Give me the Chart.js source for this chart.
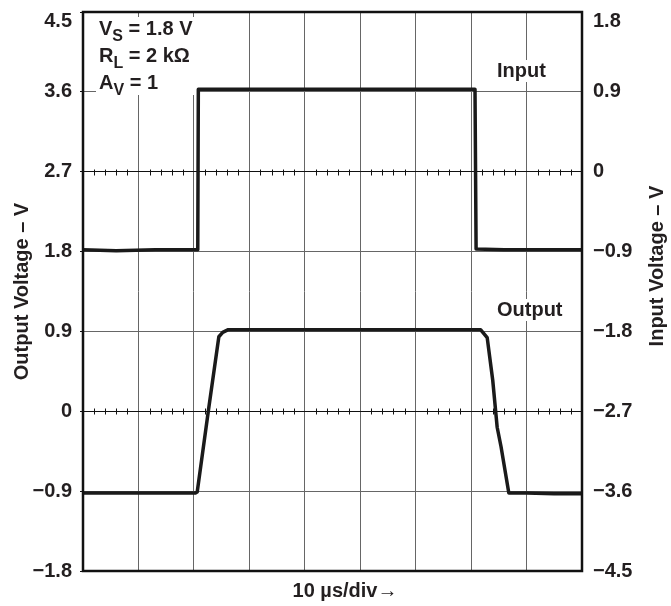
<!DOCTYPE html>
<html>
<head>
<meta charset="utf-8">
<script src="https://cdn.jsdelivr.net/npm/chart.js@4/dist/chart.umd.min.js"></script>
<style>
  html, body { margin: 0; padding: 0; background: #fff; }
</style>
</head>
<body>
<canvas id="scope" width="671" height="606"></canvas>
<script>
// divisions along the time axis (10 us/div)
const timeTicks = [0, 1, 2, 3, 4, 5, 6, 7, 8, 9];
const outputTicks = [-1.8, -0.9, 0, 0.9, 1.8, 2.7, 3.6, 4.5];
const inputTicks = [-4.5, -3.6, -2.7, -1.8, -0.9, 0, 0.9, 1.8];

// input trace (right axis, V)
const inputTime = [0, 0.6, 1.3, 2.07, 2.08, 3, 4, 5, 6, 7.07, 7.09, 7.6, 8.3, 9];
const inputVolts = [-0.88, -0.89, -0.88, -0.88, 0.93, 0.93, 0.93, 0.93, 0.93, 0.93, -0.87, -0.88, -0.88, -0.88];

// output trace (left axis, V)
const outputTime = [0, 1, 2.03, 2.06, 2.26, 2.45, 2.52, 2.62, 3.5, 5, 7.17, 7.29, 7.39, 7.47, 7.54, 7.68, 8, 8.5, 9];
const outputVolts = [-0.92, -0.92, -0.92, -0.91, 0, 0.84, 0.89, 0.92, 0.92, 0.92, 0.92, 0.83, 0.35, -0.18, -0.4, -0.92, -0.92, -0.93, -0.93];

const FONT = "'Liberation Sans', Arial, sans-serif";
const INK = "#231f20";

const fmtVolt = (v) => {
  if (Math.abs(v) < 1e-9) return "0";
  return (v < 0 ? "\u2212" : "") + Math.abs(v).toFixed(1);
};
// top label sits a bit lower than its grid line
const tickLabel = (v, i, ticks) => (i === ticks.length - 1 ? ["", fmtVolt(v)] : fmtVolt(v));

const isCenter = (v) => Math.abs(v - 2.7) < 1e-6 || Math.abs(v) < 1e-6;

// draws the subscripted text, returns end x
const drawSub = (ctx, x, y, main, sub, rest) => {
  ctx.font = "bold 20px " + FONT;
  ctx.fillText(main, x, y);
  x += ctx.measureText(main).width;
  ctx.font = "bold 16px " + FONT;
  ctx.fillText(sub, x, y + 6);
  x += ctx.measureText(sub).width;
  ctx.font = "bold 20px " + FONT;
  ctx.fillText(rest, x, y);
  return x + ctx.measureText(rest).width;
};

const scopeDecor = {
  id: "scopeDecor",
  beforeDatasetsDraw(chart) {
    const { ctx, chartArea, scales } = chart;
    const xs = scales.x;
    const ys = scales.y;
    ctx.save();
    // minor ticks on the two center lines
    ctx.strokeStyle = "#111";
    ctx.lineWidth = 1;
    [2.7, 0].forEach((lvl) => {
      const py = Math.round(ys.getPixelForValue(lvl)) + 0.5;
      for (let k = 1; k < 45; k++) {
        if (k % 5 === 0) continue;
        const px = Math.round(xs.getPixelForValue(k / 5)) + 0.5;
        ctx.beginPath();
        ctx.moveTo(px, py - 3);
        ctx.lineTo(px, py + 3);
        ctx.stroke();
      }
    });
    // white backing for the labels
    ctx.fillStyle = "#fff";
    ctx.fillRect(chartArea.left + 13, chartArea.top + 5, 102, 78);
    ctx.font = "bold 20px " + FONT;
    ctx.fillRect(496, 60, ctx.measureText("Input").width + 3, 22);
    ctx.fillRect(496, 299, ctx.measureText("Output").width + 3, 22);
    ctx.restore();
  },
  afterDatasetsDraw(chart) {
    const { ctx, chartArea } = chart;
    ctx.save();
    ctx.strokeStyle = "#111";
    ctx.lineWidth = 2.5;
    ctx.strokeRect(chartArea.left, chartArea.top, chartArea.right - chartArea.left, chartArea.bottom - chartArea.top);

    ctx.fillStyle = INK;
    ctx.textBaseline = "alphabetic";
    ctx.textAlign = "left";
    drawSub(ctx, 99, 35, "V", "S", " = 1.8 V");
    drawSub(ctx, 99, 62, "R", "L", " = 2 k\u03A9");
    drawSub(ctx, 99, 89, "A", "V", " = 1");

    ctx.font = "bold 20px " + FONT;
    ctx.fillText("Input", 497, 77);
    ctx.fillText("Output", 497, 316);

    ctx.textAlign = "center";
    ctx.textBaseline = "middle";
    ctx.fillText("10 \u00B5s/div\u2192", 345, 591);

    ctx.translate(657, 266);
    ctx.rotate(-Math.PI / 2);
    ctx.fillText("Input Voltage \u2013 V", 0, 0);
    ctx.restore();
  },
};

const fixSize = (prop, size) => (scale) => {
  scale[prop] = size;
  scale.paddingTop = 0;
  scale.paddingBottom = 0;
  scale.paddingLeft = 0;
  scale.paddingRight = 0;
};

const ctx = document.getElementById("scope").getContext("2d");

new Chart(ctx, {
  type: "line",
  data: {
    datasets: [
      {
        label: "Input",
        data: inputTime.map((t, i) => ({ x: t, y: inputVolts[i] })),
        yAxisID: "y2",
        borderColor: "#1a1a1a",
        borderWidth: 3.5,
      },
      {
        label: "Output",
        data: outputTime.map((t, i) => ({ x: t, y: outputVolts[i] })),
        yAxisID: "y",
        borderColor: "#1a1a1a",
        borderWidth: 3.5,
      },
    ],
  },
  options: {
    responsive: false,
    animation: false,
    layout: { padding: { top: 12, left: 0, right: 0, bottom: 0 } },
    elements: {
      point: { radius: 0 },
      line: { tension: 0, borderJoinStyle: "round", borderCapStyle: "round" },
    },
    plugins: {
      legend: { display: false },
      tooltip: { enabled: false },
    },
    scales: {
      x: {
        type: "linear",
        min: 0,
        max: 9,
        afterBuildTicks: (scale) => {
          scale.ticks = timeTicks.map((v) => ({ value: v }));
        },
        afterFit: fixSize("height", 35),
        ticks: { display: false },
        grid: { color: "#666", lineWidth: 1, drawTicks: false },
        border: { display: false },
      },
      y: {
        position: "left",
        min: -1.8,
        max: 4.5,
        afterBuildTicks: (scale) => {
          scale.ticks = outputTicks.map((v) => ({ value: v }));
        },
        afterFit: fixSize("width", 83),
        ticks: {
          callback: tickLabel,
          color: INK,
          padding: 8,
          autoSkip: false,
          font: { family: FONT, size: 20, weight: "bold", lineHeight: 0.9 },
        },
        grid: {
          color: (c) => (c.tick && isCenter(c.tick.value) ? "#111" : "#666"),
          tickColor: "#111",
          tickLength: 3,
          lineWidth: 1,
        },
        border: { display: false },
        title: {
          display: true,
          text: "Output Voltage \u2013 V",
          color: INK,
          padding: { top: 10, bottom: 0 },
          font: { family: FONT, size: 20, weight: "bold" },
        },
      },
      y2: {
        position: "right",
        min: -4.5,
        max: 1.8,
        afterBuildTicks: (scale) => {
          scale.ticks = inputTicks.map((v) => ({ value: v }));
        },
        afterFit: fixSize("width", 89),
        ticks: {
          callback: tickLabel,
          color: INK,
          padding: 11,
          autoSkip: false,
          font: { family: FONT, size: 20, weight: "bold", lineHeight: 0.9 },
        },
        grid: { display: false, drawTicks: false },
        border: { display: false },
      },
    },
  },
  plugins: [scopeDecor],
});
</script>
</body>
</html>
